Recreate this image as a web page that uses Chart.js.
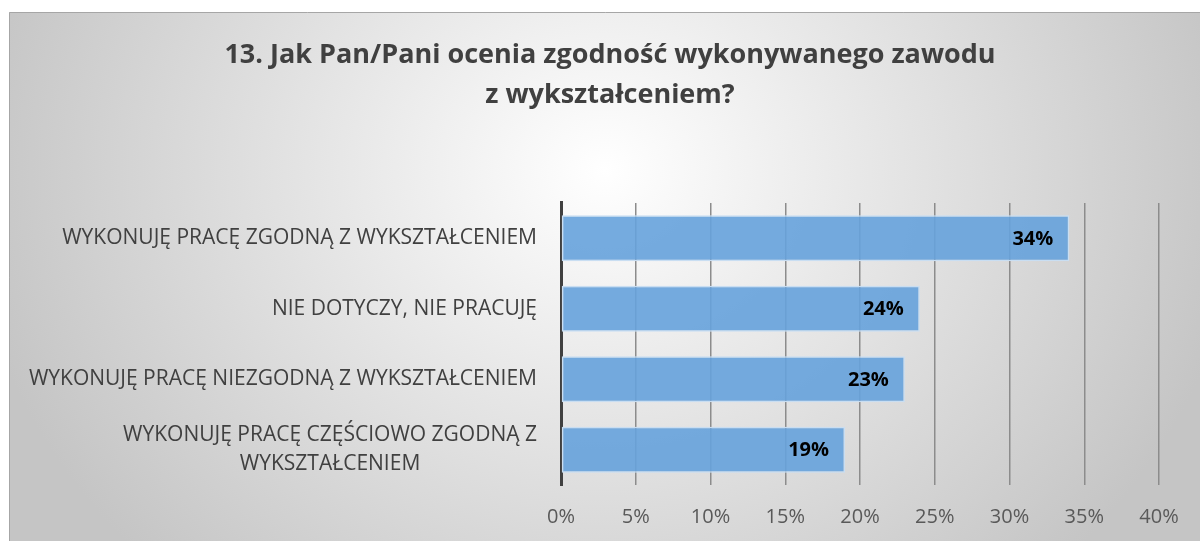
<!DOCTYPE html>
<html>
<head>
<meta charset="utf-8">
<script src="https://cdn.jsdelivr.net/npm/chart.js@4/dist/chart.umd.min.js"></script>
<style>
  html, body { margin: 0; padding: 0; background: #ffffff; }
  #wrap { position: relative; width: 1200px; height: 541px; }
</style>
</head>
<body>
<div id="wrap"><canvas id="c" width="1200" height="541"></canvas></div>
<script>
const titleLines = ["13. Jak Pan/Pani ocenia zgodność wykonywanego zawodu", "z wykształceniem?"];
const categories = [
  ["WYKONUJĘ PRACĘ ZGODNĄ Z WYKSZTAŁCENIEM"],
  ["NIE DOTYCZY, NIE PRACUJĘ"],
  ["WYKONUJĘ PRACĘ NIEZGODNĄ Z WYKSZTAŁCENIEM"],
  ["WYKONUJĘ PRACĘ CZĘŚCIOWO ZGODNĄ Z", "WYKSZTAŁCENIEM"]
];
const values = [34, 24, 23, 19];
const axisMax = 40;
const axisStep = 5;

const FONT = "'Open Sans', 'Noto Sans', sans-serif";

const backgroundPlugin = {
  id: 'bgBox',
  beforeDraw(chart) {
    const ctx = chart.ctx;
    ctx.save();
    const x0 = 9, y0 = 12, x1 = 1210, y1 = 560;
    const cx = 605, cy = 170, rx = 640, ry = 560;
    ctx.beginPath();
    ctx.rect(x0, y0, x1 - x0, y1 - y0);
    ctx.clip();
    ctx.translate(cx, cy);
    ctx.scale(rx / ry, 1);
    const g = ctx.createRadialGradient(0, 0, 0, 0, 0, ry);
    g.addColorStop(0, '#ffffff');
    g.addColorStop(1, '#c5c5c5');
    ctx.fillStyle = g;
    ctx.fillRect(-2000, -2000, 4000, 4000);
    ctx.restore();
    ctx.save();
    ctx.strokeStyle = '#a6a6a6';
    ctx.lineWidth = 1;
    ctx.beginPath();
    ctx.moveTo(x0 + 0.5, y1);
    ctx.lineTo(x0 + 0.5, y0 + 0.5);
    ctx.lineTo(x1, y0 + 0.5);
    ctx.stroke();
    ctx.restore();
  }
};

const yLabelsPlugin = {
  id: 'yLabels',
  afterDraw(chart) {
    const ctx = chart.ctx;
    const ys = chart.scales.y;
    const rightX = chart.chartArea.left - 24;
    const lh = 29;
    ctx.save();
    ctx.font = "21px " + FONT;
    ctx.fillStyle = '#404040';
    ctx.textBaseline = 'middle';
    ctx.textAlign = 'center';
    categories.forEach((lines, i) => {
      const y = ys.getPixelForTick(i);
      const widest = Math.max(...lines.map(l => ctx.measureText(l).width));
      const cx = rightX - widest / 2;
      const startY = y - (lines.length - 1) * lh / 2;
      lines.forEach((l, k) => ctx.fillText(l, cx, startY + k * lh));
    });
    ctx.restore();
  }
};

const dataLabelsPlugin = {
  id: 'dataLabels',
  afterDatasetsDraw(chart) {
    const ctx = chart.ctx;
    const meta = chart.getDatasetMeta(0);
    ctx.save();
    ctx.font = "bold 20px " + FONT;
    ctx.fillStyle = '#000000';
    ctx.textAlign = 'right';
    ctx.textBaseline = 'middle';
    meta.data.forEach((bar, i) => {
      ctx.fillText(values[i] + '%', bar.x - 16, bar.y + 1);
    });
    ctx.restore();
  }
};

new Chart(document.getElementById('c'), {
  type: 'bar',
  data: {
    labels: categories.map(l => l.join(' ')),
    datasets: [{
      data: values,
      backgroundColor: 'rgba(102,162,220,0.9)',
      borderColor: '#c9def2',
      borderWidth: 1.5,
      borderSkipped: false,
      categoryPercentage: 1,
      barPercentage: 0.652
    }]
  },
  options: {
    indexAxis: 'y',
    responsive: false,
    animation: false,
    devicePixelRatio: 1,
    layout: { padding: { left: 61, right: 41, top: 0, bottom: 0 } },
    plugins: {
      legend: { display: false },
      tooltip: { enabled: false },
      title: {
        display: true,
        text: titleLines,
        color: '#404040',
        font: { family: FONT, size: 27, weight: 'bold', lineHeight: 1.48 },
        padding: { top: 35, bottom: 88 }
      }
    },
    scales: {
      x: {
        min: 0,
        max: axisMax,
        ticks: {
          stepSize: axisStep,
          color: '#595959',
          font: { family: FONT, size: 20 },
          padding: 20,
          callback: v => v + '%'
        },
        grid: { color: '#8c8c8c', lineWidth: 1.5, drawTicks: false },
        border: { display: false },
        afterFit(s) { s.height = 56; }
      },
      y: {
        ticks: { display: false },
        grid: { display: false, drawTicks: false },
        border: { display: true, color: '#404040', width: 3 },
        afterFit(s) { s.width = 500; }
      }
    }
  },
  plugins: [backgroundPlugin, yLabelsPlugin, dataLabelsPlugin]
});
</script>
</body>
</html>
